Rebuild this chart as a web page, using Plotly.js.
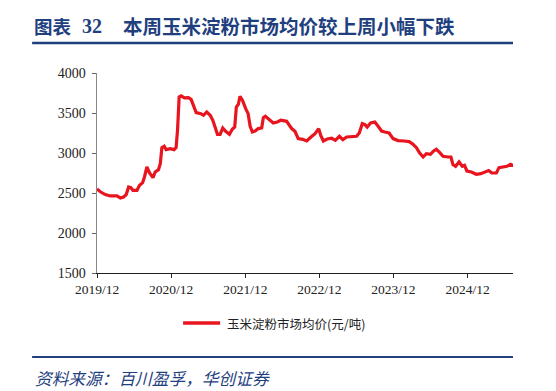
<!DOCTYPE html>
<html>
<head>
<meta charset="utf-8">
<script src="https://cdn.plot.ly/plotly-3.0.1.min.js"></script>
<style>html,body{margin:0;padding:0;background:#fff;}#chart{width:556px;height:391px;}</style>
</head>
<body>
<div id="chart"></div>
<script>
const seriesName = "玉米淀粉市场均价(元/吨)";
const dates = [
"2019-12-01","2019-12-17","2020-01-11","2020-02-04","2020-03-08","2020-03-25","2020-04-10","2020-04-23","2020-05-05","2020-05-16",
"2020-05-26","2020-06-15","2020-06-28","2020-07-13","2020-07-22","2020-08-03","2020-08-16","2020-09-02","2020-09-13","2020-09-29",
"2020-10-08","2020-10-16","2020-10-27","2020-11-06","2020-11-26","2020-12-15","2020-12-25","2021-01-01","2021-01-09","2021-01-19",
"2021-02-04","2021-02-24","2021-03-09","2021-03-24","2021-04-03","2021-04-26","2021-05-09","2021-05-25","2021-06-11","2021-06-24",
"2021-07-05","2021-07-17","2021-07-30","2021-08-12","2021-08-25","2021-09-14","2021-09-28","2021-10-10","2021-10-18","2021-10-28",
"2021-11-05","2021-11-17","2021-12-03","2021-12-15","2021-12-25","2022-01-05","2022-01-18","2022-02-03","2022-02-20","2022-02-28",
"2022-03-10","2022-03-30","2022-04-18","2022-05-08","2022-05-25","2022-06-23","2022-07-18","2022-08-03","2022-08-19","2022-09-10",
"2022-09-30","2022-10-21","2022-11-10","2022-11-28","2022-12-08","2022-12-21","2023-01-09","2023-01-31","2023-02-18","2023-03-10",
"2023-03-27","2023-04-15","2023-05-10","2023-06-03","2023-06-16","2023-07-01","2023-07-14","2023-07-25","2023-08-11","2023-09-01",
"2023-09-17","2023-10-04","2023-10-20","2023-11-10","2023-11-30","2023-12-24","2024-01-22","2024-02-17","2024-03-07","2024-03-24",
"2024-04-09","2024-04-26","2024-05-12","2024-06-01","2024-06-17","2024-06-30","2024-07-17","2024-08-02","2024-08-27","2024-09-10",
"2024-09-20","2024-10-03","2024-10-20","2024-11-05","2024-11-16","2024-11-28","2024-12-20","2025-01-13","2025-02-04","2025-02-23",
"2025-03-15","2025-03-31","2025-04-22","2025-05-05","2025-05-24","2025-06-13","2025-07-01","2025-07-17"
];
const prices = [
2550,2515,2480,2463,2463,2438,2450,2480,2575,2567,
2534,2534,2596,2630,2700,2825,2750,2692,2763,2792,
2867,3067,3084,3042,3055,3042,3067,3284,3700,3713,
3688,3692,3671,3584,3505,3492,3471,3513,3471,3409,
3334,3234,3234,3313,3275,3234,3296,3325,3575,3609,
3709,3659,3555,3492,3334,3263,3275,3305,3313,3442,
3459,3409,3375,3388,3409,3396,3305,3271,3180,3171,
3150,3200,3242,3305,3221,3150,3175,3184,3159,3209,
3167,3200,3209,3209,3250,3367,3355,3325,3375,3388,
3334,3275,3263,3250,3180,3155,3150,3142,3109,3067,
3000,2950,2992,2984,3025,3046,3005,2959,2950,2950,
2855,2834,2888,2834,2846,2775,2763,2734,2742,2759,
2780,2750,2750,2817,2825,2834,2859,2838
];
const xTickVals = ["2019-12-01","2020-12-01","2021-12-01","2022-12-01","2023-12-01","2024-12-01"];
const xTickText = ["2019/12","2020/12","2021/12","2022/12","2023/12","2024/12"];
const yTickVals = [1500,2000,2500,3000,3500,4000];
const titleLabel = "图表";
const titleNumber = "32";
const titleText = "本周玉米淀粉市场均价较上周小幅下跌";
const sourceText = "资料来源：百川盈孚，华创证券";

const blue = "#1f3f7f";
const red = "#e8141e";
const trace = {
  x: dates, y: prices, type: "scatter", mode: "lines", name: seriesName,
  line: {color: red, width: 3.2}, showlegend: false
};
const serif = "Liberation Serif, Times New Roman, serif";
const cjk = "Noto Sans CJK SC, sans-serif";
const layout = {
  width: 556, height: 391,
  margin: {l: 97, r: 43, t: 73, b: 118},
  paper_bgcolor: "#fff", plot_bgcolor: "#fff",
  showlegend: false,
  xaxis: {type: "date", range: ["2019-12-01", "2025-07-13"], tickvals: xTickVals, ticktext: xTickText,
    showgrid: false, zeroline: false, showline: true, linecolor: "#222", linewidth: 1,
    ticks: "outside", ticklen: 4, tickcolor: "#222", tickfont: {family: serif, size: 13.5, color: "#222"}},
  yaxis: {range: [1500, 4000], tickvals: yTickVals, showgrid: false, zeroline: false,
    showline: true, linecolor: "#888", linewidth: 1.5, ticks: "outside", ticklen: 4, tickcolor: "#666",
    ticklabelstandoff: 3, tickfont: {family: serif, size: 14, color: "#222"}},
  shapes: [
    {type: "line", xref: "paper", yref: "paper", x0: -0.156, x1: 1.0, y0: 1.15, y1: 1.15, line: {color: blue, width: 2.5}},
    {type: "line", xref: "paper", yref: "paper", x0: -0.156, x1: 1.0, y0: -0.42, y1: -0.42, line: {color: blue, width: 2}},
    {type: "line", xref: "paper", yref: "paper", x0: 0.207, x1: 0.296, y0: -0.25, y1: -0.25, line: {color: red, width: 3.5}}
  ],
  annotations: [
    {xref: "paper", yref: "paper", x: -0.157, y: 1.235, xanchor: "left", yanchor: "middle", showarrow: false,
      text: "<b>" + titleLabel + "</b>", font: {family: cjk, size: 18.5, color: blue}},
    {xref: "paper", yref: "paper", x: -0.04, y: 1.235, xanchor: "left", yanchor: "middle", showarrow: false,
      text: "<b>" + titleNumber + "</b>", font: {family: serif, size: 20, color: blue}},
    {xref: "paper", yref: "paper", x: 0.058, y: 1.235, xanchor: "left", yanchor: "middle", showarrow: false,
      text: "<b>" + titleText + "</b>", font: {family: cjk, size: 19.5, color: blue}},
    {xref: "paper", yref: "paper", x: 0.308, y: -0.25, xanchor: "left", yanchor: "middle", showarrow: false,
      text: seriesName, font: {family: cjk, size: 12.5, color: "#222"}},
    {xref: "paper", yref: "paper", x: -0.155, y: -0.525, xanchor: "left", yanchor: "middle", showarrow: false,
      text: "<i>" + sourceText + "</i>", font: {family: cjk, size: 16.7, color: blue}}
  ]
};
Plotly.newPlot("chart", [trace], layout, {displayModeBar: false, staticPlot: true});
</script>
</body>
</html>
